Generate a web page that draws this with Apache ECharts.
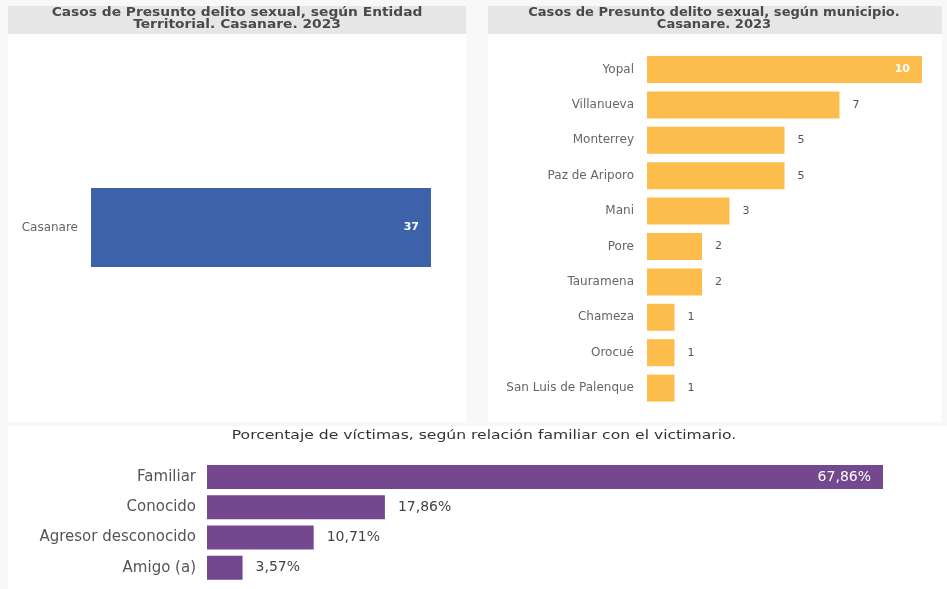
<!DOCTYPE html>
<html><head><meta charset="utf-8">
<script src="https://cdn.jsdelivr.net/npm/echarts@6/dist/echarts.min.js"></script>
<style>html,body{margin:0;padding:0;background:#f8f8f8}#c{width:947px;height:589px}</style>
</head><body><div id="c"></div>
<script>
const entidadCats = ["Casanare"];
const entidadVals = [37];
const muniCats = ["Yopal","Villanueva","Monterrey","Paz de Ariporo","Mani","Pore","Tauramena","Chameza","Orocué","San Luis de Palenque"];
const muniVals = [10,7,5,5,3,2,2,1,1,1];
const relCats = ["Familiar","Conocido","Agresor desconocido","Amigo (a)"];
const relVals = [67.86,17.86,10.71,3.57];

const chart = echarts.init(document.getElementById('c'), null, {renderer:'canvas'});
const titleFont = {fontFamily:'DejaVu Sans', fontSize:12, fontWeight:'bold', fill:'#4a4a4a', textAlign:'center', lineHeight:12.5};
function fmtPct(v){return v.toFixed(2).replace('.',',')+'%';}
chart.setOption({
  animation:false,
  graphic:[
    {type:'rect',shape:{x:8,y:34,width:458,height:388},style:{fill:'#fff'},silent:true},
    {type:'rect',shape:{x:488,y:34,width:454,height:388},style:{fill:'#fff'},silent:true},
    {type:'rect',shape:{x:8,y:426,width:939,height:163},style:{fill:'#fff'},silent:true},
    {type:'rect',shape:{x:8,y:6,width:458,height:28},style:{fill:'#e6e6e6'},silent:true},
    {type:'rect',shape:{x:488,y:6,width:454,height:28},style:{fill:'#e6e6e6'},silent:true},
    {type:'text',x:237,y:6.5,scaleX:1.15,style:Object.assign({text:'Casos de Presunto delito sexual, según Entidad\nTerritorial. Casanare. 2023'},titleFont),silent:true},
    {type:'text',x:714,y:6.5,scaleX:1.09,style:Object.assign({text:'Casos de Presunto delito sexual, según municipio.\nCasanare. 2023'},titleFont),silent:true},
    {type:'text',x:484,y:430,scaleX:1.3,style:{text:'Porcentaje de víctimas, según relación familiar con el victimario.',fontFamily:'DejaVu Sans',fontSize:12,fill:'#333',textAlign:'center'},silent:true}
  ],
  grid:[
    {left:91,width:340,top:131,height:193},
    {left:647,width:275,top:51.8,height:354},
    {left:207,width:676,top:461.8,height:121.2}
  ],
  xAxis:[
    {gridIndex:0,type:'value',min:0,max:37,show:false},
    {gridIndex:1,type:'value',min:0,max:10,show:false},
    {gridIndex:2,type:'value',min:0,max:67.86,show:false}
  ],
  yAxis:[
    {gridIndex:0,type:'category',data:entidadCats,inverse:true,axisLine:{show:false},axisTick:{show:false},
     axisLabel:{margin:13,color:'#666',fontFamily:'DejaVu Sans',fontSize:12}},
    {gridIndex:1,type:'category',data:muniCats,inverse:true,axisLine:{show:false},axisTick:{show:false},
     axisLabel:{margin:13,color:'#666',fontFamily:'DejaVu Sans',fontSize:12}},
    {gridIndex:2,type:'category',data:relCats,inverse:true,axisLine:{show:false},axisTick:{show:false},
     axisLabel:{margin:11,color:'#555',fontFamily:'DejaVu Sans',fontSize:15}}
  ],
  series:[
    {type:'bar',xAxisIndex:0,yAxisIndex:0,data:entidadVals,barWidth:79,itemStyle:{color:'#3c62a9'},
     label:{show:true,position:'insideRight',distance:12,color:'#fff',fontWeight:'bold',fontFamily:'DejaVu Sans',fontSize:11}},
    {type:'bar',xAxisIndex:1,yAxisIndex:1,barWidth:27,itemStyle:{color:'#fdbd4c'},
     data:muniVals.map((v,i)=> i===0 ? {value:v,label:{position:'insideRight',color:'#fff',fontWeight:'bold',distance:12}} : v),
     label:{show:true,position:'right',distance:13,color:'#555',fontFamily:'DejaVu Sans',fontSize:11}},
    {type:'bar',xAxisIndex:2,yAxisIndex:2,barWidth:24,itemStyle:{color:'#73488e'},
     data:relVals.map((v,i)=> i===0 ? {value:v,label:{position:'insideRight',color:'#fff',distance:12}} : v),
     label:{show:true,position:'right',distance:13,color:'#444',fontFamily:'DejaVu Sans',fontSize:14,formatter:p=>fmtPct(p.value)}}
  ]
});
</script></body></html>
